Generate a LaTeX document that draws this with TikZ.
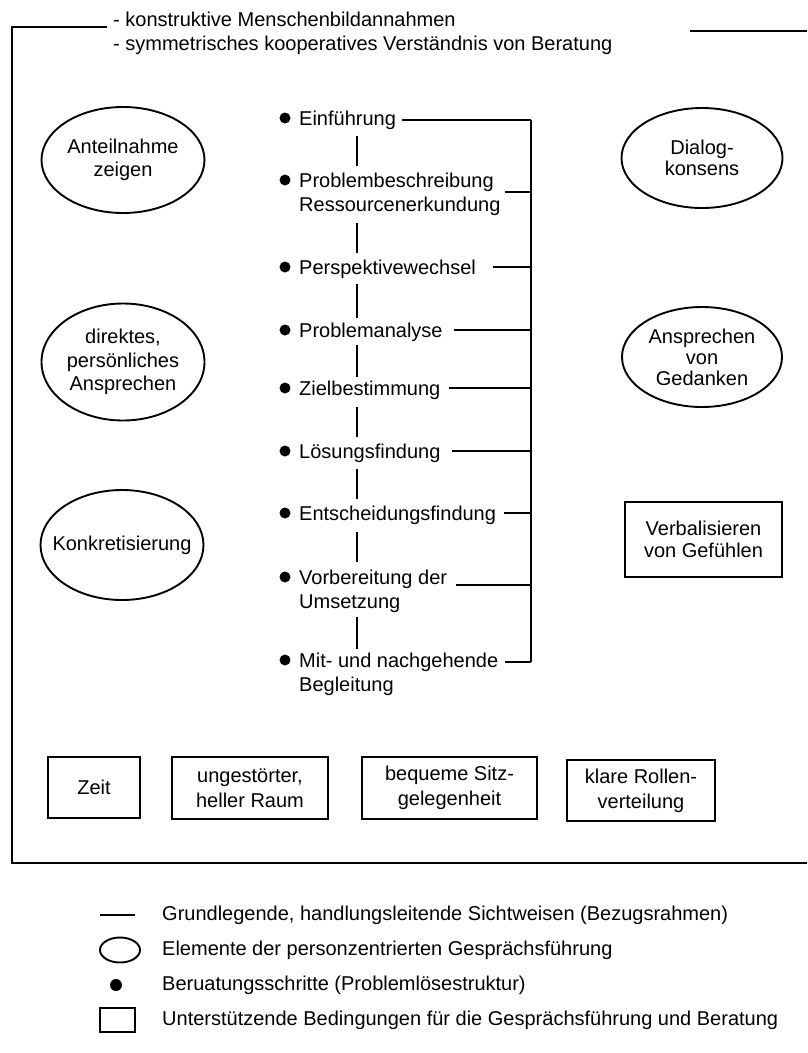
\documentclass[tikz,border=0pt]{standalone}
\usepackage{fontspec}
\setmainfont{Liberation Sans}
\usetikzlibrary{shapes.geometric,calc}
\begin{document}
\begin{tikzpicture}[x=1pt,y=-1pt,
  every node/.style={font=\fontsize{20}{24}\selectfont},
  ln/.style={line width=1.9pt},
  ell/.style={draw,ellipse,line width=1.9pt,inner sep=0pt,align=center},
  rbox/.style={draw,rectangle,line width=1.9pt,inner sep=0pt,align=center},
  dot/.style={circle,fill=black,inner sep=0pt,minimum size=11pt},
  steptext/.style={anchor=north west,inner sep=0pt,align=left},
  legtext/.style={anchor=west,inner sep=0pt},
]
\useasboundingbox (0,0) rectangle (807,1053);

% frame
\coordinate (fte) at (107,27);
\coordinate (ftl) at (12,27);
\coordinate (fbl) at (12,863);
\coordinate (fbr) at (807,863);
\coordinate (ftr1) at (690,31);
\coordinate (ftr2) at (807,31);
\draw[ln] (fte) -- (ftl) -- (fbl) -- (fbr);
\draw[ln] (ftr1) -- (ftr2);

\node[anchor=north west,inner sep=0pt,align=left] (hdr) at (113,12)
  {- konstruktive Menschenbildannahmen\\- symmetrisches kooperatives Verständnis von Beratung};

% left ellipses
\node[ell,minimum width=163pt,minimum height=106pt,font=\fontsize{20}{23.5}\selectfont] (e1) at (123,160) {Anteilnahme\\zeigen};
\node[ell,minimum width=163pt,minimum height=117pt,font=\fontsize{20}{23.5}\selectfont] (e2) at (123,362) {direktes,\\persönliches\\Ansprechen};
\node[ell,minimum width=163pt,minimum height=110pt] (e3) at (122,545) {\makebox[0pt]{Konkretisierung}};

% right ellipses and box
\node[ell,minimum width=161pt,minimum height=100pt,font=\fontsize{20}{21}\selectfont] (e4) at (702,158) {Dialog-\\konsens};
\node[ell,minimum width=160pt,minimum height=100pt,font=\fontsize{20}{21}\selectfont] (e5) at (702,357) {Ansprechen\\von\\Gedanken};
\node[rbox,minimum width=157pt,minimum height=75pt,font=\fontsize{20}{22}\selectfont] (v1) at (703.5,539.5) {Verbalisieren\\von Gefühlen};

% steps
\coordinate (bx) at (531,0);
\node[dot] (b1) at (285,118) {};
\node[dot] (b2) at (285,180) {};
\node[dot] (b3) at (285,267) {};
\node[dot] (b4) at (285,330) {};
\node[dot] (b5) at (285,388) {};
\node[dot] (b6) at (285,451) {};
\node[dot] (b7) at (285,513) {};
\node[dot] (b8) at (285,577) {};
\node[dot] (b9) at (285,660) {};
\node[steptext] (s1) at (299,110.5) {Einführung};
\node[steptext] (s2) at (299,172.5) {Problembeschreibung\\Ressourcenerkundung};
\node[steptext] (s3) at (299,259.5) {Perspektivewechsel};
\node[steptext] (s4) at (299,322.5) {Problemanalyse};
\node[steptext] (s5) at (299,380.5) {Zielbestimmung};
\node[steptext] (s6) at (299,443.5) {Lösungsfindung};
\node[steptext] (s7) at (299,505.5) {Entscheidungsfindung};
\node[steptext] (s8) at (299,569.5) {Vorbereitung der\\Umsetzung};
\node[steptext] (s9) at (299,652.5) {Mit- und nachgehende\\Begleitung};

\draw[ln] ($(s1.north east)+(6,9.5)$) coordinate (h1) -- (h1 -| bx);
\draw[ln] ($(s2.north east)+(4,19.5)$) coordinate (h2) -- (h2 -| bx);
\draw[ln] ($(s3.north east)+(17,7.5)$) coordinate (h3) -- (h3 -| bx);
\draw[ln] ($(s4.north east)+(11,7.5)$) coordinate (h4) -- (h4 -| bx);
\draw[ln] ($(s5.north east)+(8,7.5)$) coordinate (h5) -- (h5 -| bx);
\draw[ln] ($(s6.north east)+(11,7.5)$) coordinate (h6) -- (h6 -| bx);
\draw[ln] ($(s7.north east)+(8,7.5)$) coordinate (h7) -- (h7 -| bx);
\draw[ln] ($(s8.north east)+(9,15.5)$) coordinate (h8) -- (h8 -| bx);
\draw[ln] ($(s9.north east)+(7,9.5)$) coordinate (h9) -- (h9 -| bx);
\draw[ln] (h1 -| bx) -- (h9 -| bx);

\draw[ln] ($(s1.south west)!0.5!(s2.north west)+(58,-15)$) -- ++(0,30);
\draw[ln] ($(s2.south west)!0.5!(s3.north west)+(58,-15)$) -- ++(0,30);
\draw[ln] ($(s3.south west)!0.5!(s4.north west)+(58,-17)$) -- ++(0,34);
\draw[ln] ($(s4.south west)!0.5!(s5.north west)+(58,-16)$) -- ++(0,32);
\draw[ln] ($(s5.south west)!0.5!(s6.north west)+(58,-15)$) -- ++(0,30);
\draw[ln] ($(s6.south west)!0.5!(s7.north west)+(58,-15)$) -- ++(0,30);
\draw[ln] ($(s7.south west)!0.5!(s8.north west)+(58,-15)$) -- ++(0,30);
\draw[ln] ($(s8.south west)!0.5!(s9.north west)+(58,-16)$) -- ++(0,32);

% bottom boxes
\node[rbox,minimum width=92pt,minimum height=61pt] (c1) at (94,787.5) {Zeit};
\node[rbox,minimum width=156pt,minimum height=62pt,font=\fontsize{20}{25}\selectfont] (c2) at (250,788) {ungestörter,\\heller Raum};
\node[rbox,minimum width=175pt,minimum height=62pt,font=\fontsize{20}{25}\selectfont] (c3) at (449.5,788) {bequeme Sitz-\\gelegenheit};
\node[rbox,minimum width=148pt,minimum height=61pt,font=\fontsize{20}{25}\selectfont] (c4) at (641,790.5) {klare Rollen-\\verteilung};

% legend
\coordinate (lg1a) at (100,915);
\coordinate (lg1b) at (135,915);
\draw[ln] (lg1a) -- (lg1b);
\node[ell,minimum width=40pt,minimum height=25pt] (lg2) at (120,950) {};
\node[dot,minimum size=12pt] (lg3) at (116,985) {};
\node[rbox,minimum width=35pt,minimum height=24pt] (lg4) at (117.5,1020) {};
\node[legtext] (lt1) at (162,915) {Grundlegende, handlungsleitende Sichtweisen (Bezugsrahmen)};
\node[legtext] (lt2) at (162,950) {Elemente der personzentrierten Gesprächsführung};
\node[legtext] (lt3) at (162,985) {Beruatungsschritte (Problemlösestruktur)};
\node[legtext] (lt4) at (162,1020) {Unterstützende Bedingungen für die Gesprächsführung und Beratung};
\end{tikzpicture}
\end{document}
